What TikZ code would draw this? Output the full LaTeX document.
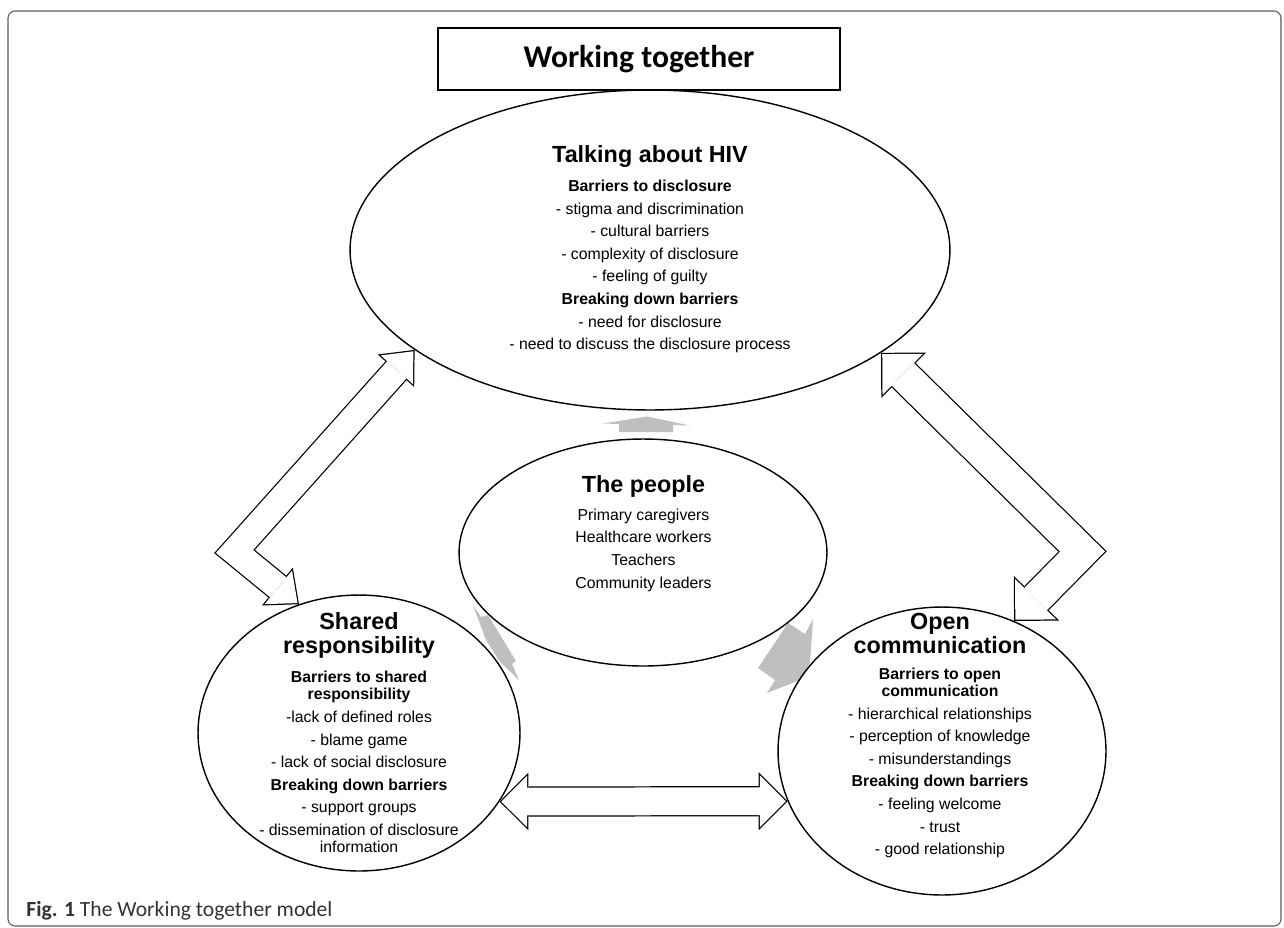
\documentclass[tikz,border=0pt]{standalone}
\usepackage{fontspec}
\setmainfont{Liberation Sans}
\newfontfamily\calibrifont{Carlito}
\usetikzlibrary{arrows.meta,shapes.geometric}
\tikzset{
    %Define style for the ellipses
    bubble/.style={
           ellipse,
           draw=black, line width=0.8pt,
           inner sep=0pt},
    %Define styles for the texts
    headtext/.style={
           font=\fontsize{13.3}{13.6}\selectfont\bfseries,
           align=center,
           inner sep=0pt},
    bodytext/.style={
           font=\fontsize{9}{12.87}\selectfont,
           align=center,
           inner sep=0pt},
    %Define style for the grey flows
    flowshade/.style={fill=black!25, draw=none}
}
% hollow block arrow: shaft, head width, head length (in px), path
\newcommand{\hollowlink}[4]{%
  \pgfmathsetlengthmacro{\outerlw}{#1*0.02cm+0.7pt}%
  \pgfmathsetlengthmacro{\innerlw}{#1*0.02cm-0.7pt}%
  \pgfmathsetmacro{\headwpt}{#2*0.5669}%
  \pgfmathsetmacro{\headlpt}{#3*0.5669}%
  \pgfmathsetmacro{\tipbackpt}{0.7/sin(atan(\headwpt/(2*\headlpt)))}%
  \pgfmathsetmacro{\innerlpt}{\headlpt-0.7-\tipbackpt}%
  \pgfmathsetmacro{\innerwpt}{\headwpt*\innerlpt/\headlpt}%
  \pgfmathsetlengthmacro{\headw}{\headwpt}%
  \pgfmathsetlengthmacro{\headl}{\headlpt}%
  \pgfmathsetlengthmacro{\innerw}{\innerwpt}%
  \pgfmathsetlengthmacro{\innerl}{\innerlpt}%
  \pgfmathsetlengthmacro{\tipback}{\tipbackpt}%
  \draw[black, line width=\outerlw, line join=miter,
        {Triangle[length=\headl, width=\headw, line width=0pt]}-{Triangle[length=\headl, width=\headw, line width=0pt]}] #4;
  \draw[white, line width=\innerlw, line join=miter,
        shorten <=\tipback, shorten >=\tipback,
        {Triangle[length=\innerl, width=\innerw, line width=0pt]}-{Triangle[length=\innerl, width=\innerw, line width=0pt]}] #4;
}
\begin{document}
\begin{tikzpicture}[x=0.02cm, y=-0.02cm]
\useasboundingbox (0,0) rectangle (1284,927);
 %frame and caption
\draw[black!65, line width=0.6pt, rounded corners=4pt] (8,11) rectangle (1281,926);
\node[anchor=west, inner sep=0pt, text=black!80,
      font=\calibrifont\fontsize{12.3}{14}\selectfont] (caption) at (26,911)
      {\textbf{Fig. 1} The Working together model};

 %title
\node[draw, line width=0.8pt, minimum width=8.04cm, minimum height=1.24cm, inner sep=0pt,
      font=\calibrifont\bfseries\fontsize{18}{20}\selectfont] (title) at (639,59) {Working together};

 %grey flows from the people
\fill[flowshade] (619,432) -- (619,424) -- (603,423.5) -- (647,416.5) -- (690,425.5)
      -- (673,425) -- (673,432) -- cycle;
\fill[flowshade] (473,605) -- (481,617) -- (488,615) -- (516,661) -- (512,664)
      -- (519,680) -- (500,662) -- (486,640) -- cycle;
\fill[flowshade] (788,623) -- (805,634) -- (813,619) -- (810,663) -- (800,680)
      -- (767,693) -- (775,680) -- (758,668) -- cycle;

 %ellipses
\node[bubble, minimum width=12cm, minimum height=6.4cm] (talk) at (650,250) {};
\node[bubble, minimum width=7.36cm, minimum height=4.54cm] (people) at (643,552.5) {};
\node[bubble, minimum width=6.44cm, minimum height=5.52cm] (shared) at (359,733) {};
\node[bubble, minimum width=6.56cm, minimum height=5.76cm] (open) at (942,751) {};

 %texts
\node[headtext] (talkhead) at (650,157) {Talking about HIV};
\node[bodytext] (talkbody) at (650,266.5) {\textbf{Barriers to disclosure}\\
    - stigma and discrimination\\- cultural barriers\\- complexity of disclosure\\
    - feeling of guilty\\\textbf{Breaking down barriers}\\- need for disclosure\\
    - need to discuss the disclosure process};

\node[headtext] (peoplehead) at (643.5,486) {The people};
\node[bodytext] (peoplebody) at (643.5,550) {Primary caregivers\\Healthcare workers\\
    Teachers\\Community leaders};

\node[headtext] (sharedhead) at (359,635.5) {Shared\\responsibility};
\node[bodytext] (sharedbody) at (359,762) {\textbf{Barriers to shared}\\[-3.2pt]
    \textbf{responsibility}\\-lack of defined roles\\- blame game\\
    - lack of social disclosure\\\textbf{Breaking down barriers}\\- support groups\\
    - dissemination of disclosure\\[-3.2pt]information};

\node[headtext] (openhead) at (940,633.5) {Open\\communication};
\node[bodytext] (openbody) at (940,763) {\textbf{Barriers to open}\\[-3.2pt]
    \textbf{communication}\\- hierarchical relationships\\- perception of knowledge\\
    - misunderstandings\\\textbf{Breaking down barriers}\\- feeling welcome\\
    - trust\\- good relationship};

 %hollow links
\coordinate (leftbend) at (234.5,551.5);
\coordinate (rightbend) at (1082.5,551.5);
\hollowlink{27}{49}{28}{(talk.203.1) -- (leftbend) -- (shared.115.4)}
\hollowlink{33}{64}{32}{(talk.336) -- (rightbend) -- (open.61.2)}
\hollowlink{29}{58}{29}{(shared.-26.7) -- (open.198.9)}
\end{tikzpicture}
\end{document}
